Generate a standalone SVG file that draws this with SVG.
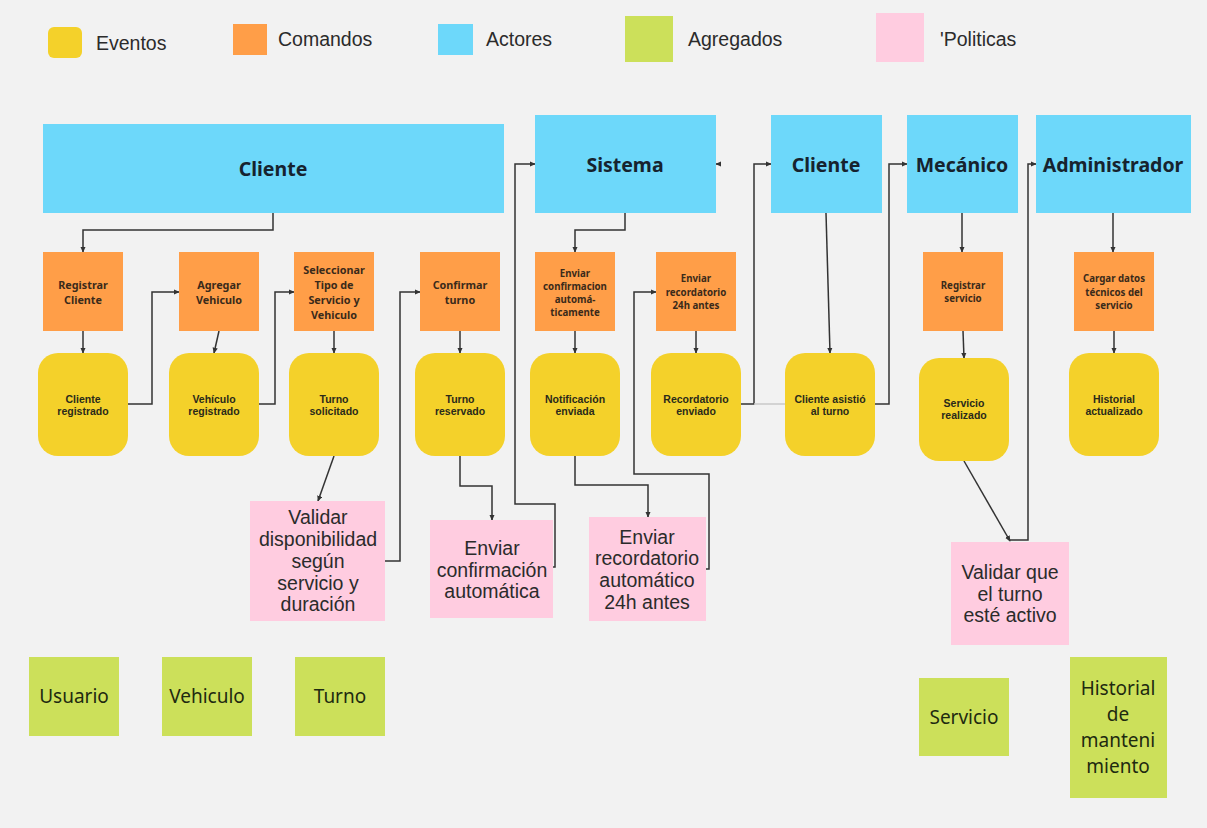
<svg xmlns="http://www.w3.org/2000/svg" width="1207" height="828" viewBox="0 0 1207 828">
<defs>
<marker id="ah" viewBox="0 0 8 8" refX="7" refY="4" markerWidth="6" markerHeight="6" markerUnits="userSpaceOnUse" orient="auto">
<path d="M0,0.5 L8,4 L0,7.5 Z" fill="#333"/>
</marker>
<style>
.ev{fill:#F4D12A}
.cmd{fill:#FF9E48}
.act{fill:#6DD8FA}
.agg{fill:#CCE05A}
.pol{fill:#FFCCE0}
.lg{font-family:"Liberation Sans",Arial,sans-serif;font-size:19.5px;fill:#2b2b2b}
.at{font-family:"Noto Sans","Open Sans",sans-serif;font-weight:bold;font-size:19.5px;fill:#16232e;text-anchor:middle}
.ct{font-family:"Noto Sans","Open Sans",sans-serif;font-weight:bold;font-size:10.8px;fill:#3a2a1a;text-anchor:middle}
.cs{font-size:9.7px}
.et{font-family:"Liberation Sans",Arial,sans-serif;font-weight:bold;font-size:10.5px;fill:#2a2a1a;text-anchor:middle}
.pt{font-family:"Liberation Sans",Arial,sans-serif;font-size:19.5px;fill:#2b2b2b;text-anchor:middle}
.gt{font-family:"Noto Sans","Open Sans",sans-serif;font-size:19px;fill:#1e2a10;text-anchor:middle}
.cn{fill:none;stroke:#333;stroke-width:1.5;marker-end:url(#ah)}
</style>
</defs>
<rect width="1207" height="828" fill="#F2F2F2"/>

<g id="legend">
<rect class="ev" x="48" y="27" width="34" height="31" rx="6"/>
<text class="lg" x="96" y="50">Eventos</text>
<rect class="cmd" x="233" y="24" width="34" height="31"/>
<text class="lg" x="278" y="46">Comandos</text>
<rect class="act" x="438" y="24" width="35" height="31"/>
<text class="lg" x="486" y="46">Actores</text>
<rect class="agg" x="625" y="16" width="48" height="46"/>
<text class="lg" x="688" y="46">Agregados</text>
<rect class="pol" x="876" y="13" width="48" height="49"/>
<text class="lg" x="940" y="46">'Politicas</text>
</g>

<g id="connectors">
<path class="cn" d="M273,213 V230 H83 V252"/>
<path class="cn" d="M83,331 V353"/>
<path class="cn" d="M128,404 H152 V292 H179"/>
<path class="cn" d="M219,331 L214,353"/>
<path class="cn" d="M259,404 H275 V292 H294"/>
<path class="cn" d="M334,331 V353"/>
<path class="cn" d="M334,456 L318,501"/>
<path class="cn" d="M385,561 H400 V292 H420"/>
<path class="cn" d="M460,331 V353"/>
<path class="cn" d="M460,456 V486 H492 V520"/>
<path class="cn" d="M553,567 H555 V504 H515 V164 H535"/>
<path class="cn" d="M625,213 V230 H575 V252"/>
<path class="cn" d="M575,331 V353"/>
<path class="cn" d="M575,456 V485 H648 V517"/>
<path class="cn" d="M706,569 H709 V474 H634 V292 H656"/>
<path class="cn" d="M696,331 V353"/>
<path class="cn" d="M741,404 H754 V164 H771"/>
<path d="M754,404 H785" fill="none" stroke="#c8c8c8" stroke-width="1.5"/>
<path class="cn" d="M826,213 L830,353"/>
<path class="cn" d="M875,404 H889 V164 H907"/>
<path class="cn" d="M962,213 V252"/>
<path class="cn" d="M963,331 L964,358"/>
<path class="cn" d="M964,461 L1010,541"/>
<path class="cn" d="M1010,540 H1028 V164 H1036"/>
<path class="cn" d="M1113,213 V252"/>
<path class="cn" d="M1114,331 V353"/>
<path class="cn" d="M721,164 L716,164"/>
</g>

<g id="actor-cliente"><rect class="act" x="43" y="124" width="461" height="89"/><text class="at" x="273" y="176">Cliente</text></g>
<g id="actor-sistema"><rect class="act" x="535" y="115" width="181" height="98"/><text class="at" x="625" y="172">Sistema</text></g>
<g id="actor-cliente2"><rect class="act" x="771" y="115" width="111" height="98"/><text class="at" x="826" y="172">Cliente</text></g>
<g id="actor-mecanico"><rect class="act" x="907" y="115" width="111" height="98"/><text class="at" x="962" y="172">Mecánico</text></g>
<g id="actor-admin"><rect class="act" x="1036" y="115" width="155" height="98"/><text class="at" x="1113" y="172">Administrador</text></g>

<g id="cmd-registrar-cliente"><rect class="cmd" x="43" y="252" width="80" height="79"/><text class="ct" x="83" y="289">Registrar</text><text class="ct" x="83" y="304">Cliente</text></g>
<g id="cmd-agregar-vehiculo"><rect class="cmd" x="179" y="252" width="80" height="79"/><text class="ct" x="219" y="289">Agregar</text><text class="ct" x="219" y="304">Vehiculo</text></g>
<g id="cmd-seleccionar"><rect class="cmd" x="294" y="252" width="80" height="79"/><text class="ct" x="334" y="274">Seleccionar</text><text class="ct" x="334" y="289">Tipo de</text><text class="ct" x="334" y="304">Servicio y</text><text class="ct" x="334" y="319">Vehiculo</text></g>
<g id="cmd-confirmar"><rect class="cmd" x="420" y="252" width="80" height="79"/><text class="ct" x="460" y="289">Confirmar</text><text class="ct" x="460" y="304">turno</text></g>
<g id="cmd-enviar-confirmacion"><rect class="cmd" x="535" y="252" width="80" height="79"/><text class="ct cs" x="575" y="276.5">Enviar</text><text class="ct cs" x="575" y="289.5">confirmacion</text><text class="ct cs" x="575" y="302.5">automá-</text><text class="ct cs" x="575" y="315.5">ticamente</text></g>
<g id="cmd-enviar-recordatorio"><rect class="cmd" x="656" y="252" width="80" height="79"/><text class="ct cs" x="696" y="282">Enviar</text><text class="ct cs" x="696" y="295.5">recordatorio</text><text class="ct cs" x="696" y="309">24h antes</text></g>
<g id="cmd-registrar-servicio"><rect class="cmd" x="923" y="252" width="80" height="79"/><text class="ct cs" x="963" y="288.5">Registrar</text><text class="ct cs" x="963" y="301.5">servicio</text></g>
<g id="cmd-cargar-datos"><rect class="cmd" x="1074" y="252" width="80" height="79"/><text class="ct cs" x="1114" y="282">Cargar datos</text><text class="ct cs" x="1114" y="295.5">técnicos del</text><text class="ct cs" x="1114" y="308.5">servicio</text></g>

<g id="ev-cliente-registrado"><rect class="ev" x="38" y="353" width="90" height="103" rx="20"/><text class="et" x="83" y="402.5">Cliente</text><text class="et" x="83" y="414.5">registrado</text></g>
<g id="ev-vehiculo-registrado"><rect class="ev" x="169" y="353" width="90" height="103" rx="20"/><text class="et" x="214" y="402.5">Vehículo</text><text class="et" x="214" y="414.5">registrado</text></g>
<g id="ev-turno-solicitado"><rect class="ev" x="289" y="353" width="90" height="103" rx="20"/><text class="et" x="334" y="402.5">Turno</text><text class="et" x="334" y="414.5">solicitado</text></g>
<g id="ev-turno-reservado"><rect class="ev" x="415" y="353" width="90" height="103" rx="20"/><text class="et" x="460" y="402.5">Turno</text><text class="et" x="460" y="414.5">reservado</text></g>
<g id="ev-notificacion"><rect class="ev" x="530" y="353" width="90" height="103" rx="20"/><text class="et" x="575" y="402.5">Notificación</text><text class="et" x="575" y="414.5">enviada</text></g>
<g id="ev-recordatorio"><rect class="ev" x="651" y="353" width="90" height="103" rx="20"/><text class="et" x="696" y="402.5">Recordatorio</text><text class="et" x="696" y="414.5">enviado</text></g>
<g id="ev-cliente-asistio"><rect class="ev" x="785" y="353" width="90" height="103" rx="20"/><text class="et" x="830" y="402.5">Cliente asistió</text><text class="et" x="830" y="414.5">al turno</text></g>
<g id="ev-servicio-realizado"><rect class="ev" x="919" y="358" width="90" height="103" rx="20"/><text class="et" x="964" y="406.5">Servicio</text><text class="et" x="964" y="419">realizado</text></g>
<g id="ev-historial-actualizado"><rect class="ev" x="1069" y="353" width="90" height="103" rx="20"/><text class="et" x="1114" y="402.5">Historial</text><text class="et" x="1114" y="414.5">actualizado</text></g>

<g id="pol-validar-disponibilidad"><rect class="pol" x="250" y="501" width="135" height="120"/><text class="pt" x="318" y="524">Validar</text><text class="pt" x="318" y="546">disponibilidad</text><text class="pt" x="318" y="567.5">según</text><text class="pt" x="318" y="589.5">servicio y</text><text class="pt" x="318" y="611">duración</text></g>
<g id="pol-enviar-confirmacion"><rect class="pol" x="430" y="520" width="123" height="98"/><text class="pt" x="492" y="554.5">Enviar</text><text class="pt" x="492" y="576.5">confirmación</text><text class="pt" x="492" y="597.5">automática</text></g>
<g id="pol-enviar-recordatorio"><rect class="pol" x="589" y="517" width="117" height="104"/><text class="pt" x="647" y="543.5">Enviar</text><text class="pt" x="647" y="564.5">recordatorio</text><text class="pt" x="647" y="586.5">automático</text><text class="pt" x="647" y="608.5">24h antes</text></g>
<g id="pol-validar-turno"><rect class="pol" x="951" y="542" width="118" height="103"/><text class="pt" x="1010" y="578.5">Validar que</text><text class="pt" x="1010" y="600.5">el turno</text><text class="pt" x="1010" y="622">esté activo</text></g>

<g id="agg-usuario"><rect class="agg" x="29" y="657" width="90" height="79"/><text class="gt" x="74" y="703">Usuario</text></g>
<g id="agg-vehiculo"><rect class="agg" x="162" y="657" width="90" height="79"/><text class="gt" x="207" y="703">Vehiculo</text></g>
<g id="agg-turno"><rect class="agg" x="295" y="657" width="90" height="79"/><text class="gt" x="340" y="703">Turno</text></g>
<g id="agg-servicio"><rect class="agg" x="919" y="678" width="90" height="78"/><text class="gt" x="964" y="724">Servicio</text></g>
<g id="agg-historial"><rect class="agg" x="1070" y="657" width="97" height="141"/><text class="gt" x="1118" y="695">Historial</text><text class="gt" x="1118" y="721">de</text><text class="gt" x="1118" y="747">manteni</text><text class="gt" x="1118" y="773">miento</text></g>
</svg>
